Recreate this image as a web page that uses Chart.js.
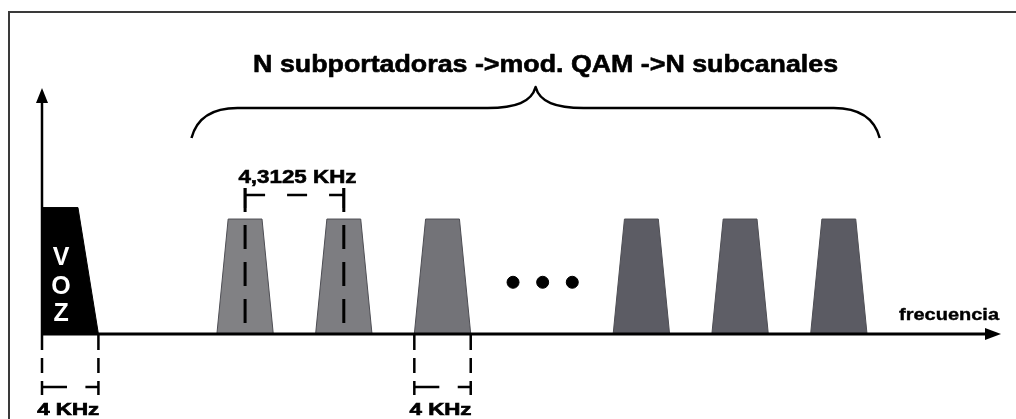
<!DOCTYPE html>
<html>
<head>
<meta charset="utf-8">
<title>Subportadoras DMT</title>
<script src="https://cdn.jsdelivr.net/npm/chart.js@4.4.1/dist/chart.umd.min.js"></script>
<style>
  html, body { margin: 0; padding: 0; background: #fff; }
  #wrap { width: 1016px; height: 419px; }
</style>
</head>
<body>
<div id="wrap"><canvas id="myChart" width="1016" height="419"></canvas></div>
<script>
// eje x: frecuencia (unidades del esquema, 4 = 4 KHz), eje y: amplitud relativa
const carrierCenters = [14.4, 21.4, 28.4, 42.5, 49.5, 56.5];
const carrierBand = 4;      // ancho de cada subcanal en la base
const carrierTopBand = 2.4; // ancho en la parte superior
const carrierLevel = 1.0;
const vozBand = [0, 4];
const vozTopEdge = 2.55;
const vozLevel = 1.1;
const dotFreqs = [33.4, 35.5, 37.6];
const dotLevel = 0.45;
const spacingPair = [0, 1];     // subportadoras separadas 4,3125 KHz
const spacingLevel = 1.21;
const markerTop = 1.27;
const bandMarkCarrier = 2;      // subcanal con la marca de 4 KHz
const braceRange = [10.6, 59.4];
const xMax = 68;
const yMax = 2.14;

const titleText = 'N subportadoras ->mod. QAM ->N subcanales';
const spacingLabel = '4,3125 KHz';
const bandLabel = '4 KHz';
const axisLabel = 'frecuencia';
const vozLetters = ['V', 'O', 'Z'];

// estilos
const carrierColors = ['#818184', '#7d7d81', '#737378', '#5c5c64', '#5e5e66', '#5b5b63'];
const ink = '#000';

function trapezoid(center, bottom, top, level) {
    return [
        { x: center - bottom / 2, y: 0 },
        { x: center - top / 2, y: level },
        { x: center + top / 2, y: level },
        { x: center + bottom / 2, y: 0 }
    ];
}

const datasets = [];

// lineas centrales discontinuas
spacingPair.forEach(i => {
    datasets.push({
        data: [{ x: carrierCenters[i], y: markerTop }, { x: carrierCenters[i], y: 0 }],
        borderColor: ink,
        borderWidth: 3,
        borderDash: [24, 13],
        pointRadius: 0,
        fill: false,
        order: 0
    });
});

// puntos suspensivos
datasets.push({
    data: dotFreqs.map(f => ({ x: f, y: dotLevel })),
    showLine: false,
    pointRadius: 6,
    pointBackgroundColor: ink,
    pointBorderColor: ink,
    order: 0
});

// banda de voz
datasets.push({
    data: [
        { x: vozBand[0], y: 0 },
        { x: vozBand[0], y: vozLevel },
        { x: vozTopEdge, y: vozLevel },
        { x: vozBand[1], y: 0 }
    ],
    borderColor: ink,
    borderWidth: 1,
    backgroundColor: ink,
    pointRadius: 0,
    fill: 'origin',
    order: 1
});

// subportadoras
carrierCenters.forEach((c, i) => {
    datasets.push({
        data: trapezoid(c, carrierBand, carrierTopBand, carrierLevel),
        borderColor: '#4e4e54',
        borderWidth: 1,
        backgroundColor: carrierColors[i],
        pointRadius: 0,
        fill: 'origin',
        order: 1
    });
});

// texto en negrita, ajustado al ancho del original
function stretchText(ctx, text, cx, baseline, size, width, heavy) {
    ctx.font = `bold ${size}px "Liberation Sans", Arial, sans-serif`;
    const w = ctx.measureText(text).width;
    ctx.save();
    ctx.translate(cx, baseline);
    ctx.scale(width / w, 1);
    ctx.textAlign = 'center';
    ctx.textBaseline = 'alphabetic';
    ctx.fillText(text, 0, 0);
    if (heavy) {
        ctx.lineWidth = heavy;
        ctx.strokeStyle = ctx.fillStyle;
        ctx.strokeText(text, 0, 0);
    }
    ctx.restore();
}

const diagramPlugin = {
    id: 'diagram',
    afterDatasetsDraw(chart) {
        const ctx = chart.ctx;
        const xs = chart.scales.x;
        const ys = chart.scales.y;
        const x0 = xs.getPixelForValue(0);
        const y0 = ys.getPixelForValue(0);
        const yTop = ys.getPixelForValue(yMax);
        const xEnd = xs.getPixelForValue(xMax);

        ctx.save();
        ctx.fillStyle = ink;

        // marco
        ctx.strokeStyle = '#3a3a3a';
        ctx.lineWidth = 2;
        ctx.beginPath();
        ctx.moveTo(9, chart.height);
        ctx.lineTo(9, 12);
        ctx.lineTo(chart.width, 12);
        ctx.stroke();
        ctx.strokeStyle = ink;

        // eje vertical
        ctx.lineWidth = 2.5;
        ctx.beginPath();
        ctx.moveTo(x0, y0);
        ctx.lineTo(x0, yTop + 10);
        ctx.stroke();
        ctx.beginPath();
        ctx.moveTo(x0, yTop);
        ctx.lineTo(x0 - 6, yTop + 15);
        ctx.lineTo(x0 + 6, yTop + 15);
        ctx.closePath();
        ctx.fill();

        // eje horizontal
        ctx.lineWidth = 3;
        ctx.beginPath();
        ctx.moveTo(x0, y0);
        ctx.lineTo(xEnd - 10, y0);
        ctx.stroke();
        ctx.beginPath();
        ctx.moveTo(xEnd, y0);
        ctx.lineTo(xEnd - 16, y0 - 6);
        ctx.lineTo(xEnd - 16, y0 + 6);
        ctx.closePath();
        ctx.fill();

        stretchText(ctx, axisLabel, xEnd - 52, y0 - 14, 17, 100, 0.4);

        // texto VOZ
        ctx.fillStyle = '#fff';
        ctx.font = 'bold 25px "Liberation Sans", Arial, sans-serif';
        ctx.textAlign = 'center';
        ctx.textBaseline = 'alphabetic';
        const vx = xs.getPixelForValue(1.35);
        const vBase = [y0 - 69, y0 - 40, y0 - 13];
        vozLetters.forEach((l, i) => ctx.fillText(l, vx, vBase[i]));
        ctx.fillStyle = ink;

        // separacion entre subportadoras
        const sa = xs.getPixelForValue(carrierCenters[spacingPair[0]]);
        const sb = xs.getPixelForValue(carrierCenters[spacingPair[1]]);
        const sy = ys.getPixelForValue(spacingLevel);
        ctx.lineWidth = 2.5;
        ctx.beginPath();
        ctx.moveTo(sa, sy - 7); ctx.lineTo(sa, sy + 13);
        ctx.moveTo(sb, sy - 7); ctx.lineTo(sb, sy + 13);
        ctx.stroke();
        ctx.setLineDash([20, 22]);
        ctx.beginPath();
        ctx.moveTo(sa, sy);
        ctx.lineTo(sb, sy);
        ctx.stroke();
        ctx.setLineDash([]);
        stretchText(ctx, spacingLabel, (sa + sb) / 2 + 3, sy - 12, 19, 118, 0.6);

        // marcas de 4 KHz bajo el eje
        const marks = [
            vozBand,
            [carrierCenters[bandMarkCarrier] - carrierBand / 2, carrierCenters[bandMarkCarrier] + carrierBand / 2]
        ];
        marks.forEach(([a, b]) => {
            const xa = xs.getPixelForValue(a);
            const xb = xs.getPixelForValue(b);
            ctx.lineWidth = 2.5;
            ctx.beginPath();
            [xa, xb].forEach(px => {
                ctx.moveTo(px, y0); ctx.lineTo(px, y0 + 16);
                ctx.moveTo(px, y0 + 24); ctx.lineTo(px, y0 + 39);
                ctx.moveTo(px, y0 + 47); ctx.lineTo(px, y0 + 61);
            });
            ctx.moveTo(xa, y0 + 53); ctx.lineTo(xa + 25, y0 + 53);
            ctx.moveTo(xb - 13, y0 + 53); ctx.lineTo(xb, y0 + 53);
            ctx.stroke();
            stretchText(ctx, bandLabel, (xa + xb) / 2 - 2, y0 + 81, 17, 62, 0.7);
        });

        // llave superior
        const L = xs.getPixelForValue(braceRange[0]);
        const R = xs.getPixelForValue(braceRange[1]);
        const M = (L + R) / 2;
        const yEnd = 138, yLine = 108, yTip = 87;
        ctx.lineWidth = 2.5;
        ctx.lineJoin = 'round';
        ctx.beginPath();
        ctx.moveTo(L, yEnd);
        ctx.quadraticCurveTo(L + 8, yLine, L + 46, yLine);
        ctx.lineTo(M - 48, yLine);
        ctx.bezierCurveTo(M - 20, yLine, M - 4, 102, M, yTip);
        ctx.bezierCurveTo(M + 4, 102, M + 20, yLine, M + 48, yLine);
        ctx.lineTo(R - 46, yLine);
        ctx.quadraticCurveTo(R - 8, yLine, R, yEnd);
        ctx.stroke();

        // titulo
        stretchText(ctx, titleText, M + 10, 72, 24, 585, 0.6);

        ctx.restore();
    }
};

const ctx = document.getElementById('myChart').getContext('2d');
new Chart(ctx, {
    type: 'line',
    data: { datasets },
    options: {
        responsive: false,
        animation: false,
        devicePixelRatio: 1,
        layout: { padding: { left: 42, right: 15, top: 88, bottom: 85 } },
        scales: {
            x: { type: 'linear', min: 0, max: xMax, display: false },
            y: { min: 0, max: yMax, display: false }
        },
        elements: { line: { tension: 0 } },
        plugins: {
            legend: { display: false },
            tooltip: { enabled: false },
            title: { display: false }
        }
    },
    plugins: [diagramPlugin]
});
</script>
</body>
</html>
